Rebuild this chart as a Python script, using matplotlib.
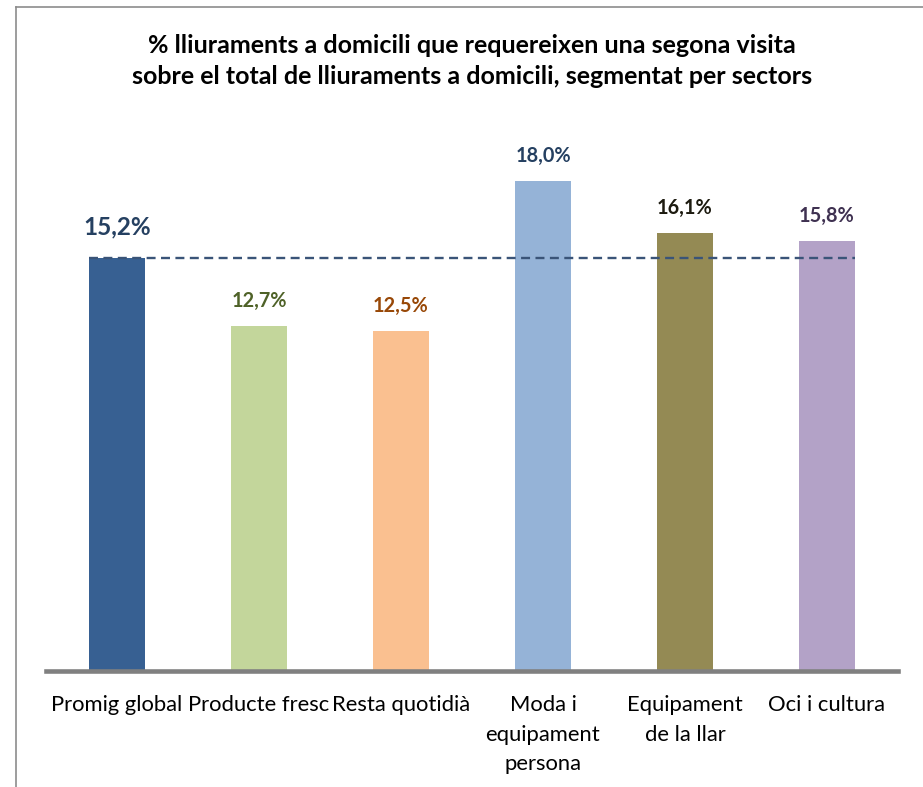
import matplotlib
matplotlib.use('Agg')
import matplotlib.pyplot as plt
from matplotlib.lines import Line2D

# dades
sectors = ['Promig global', 'Producte fresc', 'Resta quotidià',
           'Moda i\nequipament\npersona', 'Equipament\nde la llar', 'Oci i cultura']
percentatges = [15.2, 12.7, 12.5, 18.0, 16.1, 15.8]
etiquetes = ['15,2%', '12,7%', '12,5%', '18,0%', '16,1%', '15,8%']
promig = 15.2

colors_barres = ['#376092', '#C3D69B', '#FAC090', '#95B3D7', '#948A54', '#B3A2C7']
colors_text = ['#254061', '#4F6228', '#984807', '#254061', '#1D1B10', '#3F3151']

plt.rcParams['font.family'] = ['Lato', 'DejaVu Sans']

fig = plt.figure(figsize=(9.23, 7.87), dpi=100)
ax = fig.add_axes([46 / 923, 116 / 787, 852 / 923, 544 / 787])

x = list(range(len(sectors)))
ax.bar(x, percentatges, width=0.4, color=colors_barres, zorder=2)

# linia del promig
ax.plot([-0.2, 5.2], [promig, promig], color='#3A5478', lw=1.7,
        linestyle=(0, (3.8, 2.3)), zorder=3)

for i, v in enumerate(percentatges):
    if i == 0:
        ax.text(i, v + 0.72, etiquetes[i], ha='center', va='bottom',
                fontsize=17.5, fontweight='bold', color=colors_text[i])
    else:
        ax.text(i, v + 0.55, etiquetes[i], ha='center', va='bottom',
                fontsize=14.3, fontweight='bold', color=colors_text[i])

ax.set_xlim(-0.5, 5.5)
ax.set_ylim(0, 20)
ax.set_xticks(x)
ax.set_xticklabels(sectors, fontsize=15.8, linespacing=1.62)
ax.tick_params(axis='x', length=0, pad=17)
ax.set_yticks([])
for s in ['top', 'right', 'left']:
    ax.spines[s].set_visible(False)
ax.spines['bottom'].set_color('#808080')
ax.spines['bottom'].set_linewidth(3.3)

fig.text(472 / 923, 1 - 61 / 787,
         '% lliuraments a domicili que requereixen una segona visita\n'
         'sobre el total de lliuraments a domicili, segmentat per sectors',
         ha='center', va='center', fontsize=18, fontweight='bold',
         linespacing=1.4)

# marc
fig.add_artist(Line2D([16 / 923, 16 / 923], [0, 1 - 7 / 787],
                      transform=fig.transFigure, color='#8C8C8C', lw=1.2))
fig.add_artist(Line2D([16 / 923, 1], [1 - 7 / 787, 1 - 7 / 787],
                      transform=fig.transFigure, color='#8C8C8C', lw=1.2))

fig.savefig('out.png', dpi=100)
